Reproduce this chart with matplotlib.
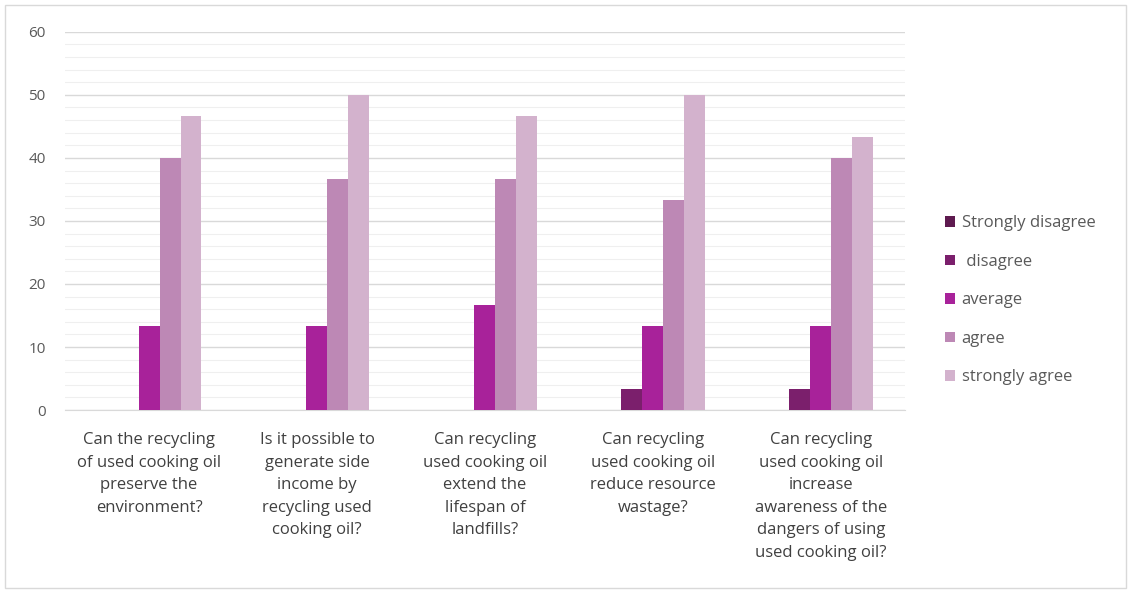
import numpy as np
import matplotlib.pyplot as plt
from matplotlib.patches import Rectangle

plt.rcParams['font.family'] = ['Open Sans', 'DejaVu Sans']

categories = [
    "Can the recycling\nof used cooking oil\npreserve the\nenvironment?",
    "Is it possible to\ngenerate side\nincome by\nrecycling used\ncooking oil?",
    "Can recycling\nused cooking oil\nextend the\nlifespan of\nlandfills?",
    "Can recycling\nused cooking oil\nreduce resource\nwastage?",
    "Can recycling\nused cooking oil\nincrease\nawareness of the\ndangers of using\nused cooking oil?",
]
series_names = ["Strongly disagree", " disagree", "average", "agree", "strongly agree"]
strongly_disagree = [0, 0, 0, 0, 0]
disagree = [0, 0, 0, 3.33, 3.33]
average = [13.33, 13.33, 16.67, 13.33, 13.33]
agree = [40, 36.67, 36.67, 33.33, 40]
strongly_agree = [46.67, 50, 46.67, 50, 43.33]
colors = ["#5e1a4f", "#7b1f6c", "#a8229a", "#bd88b5", "#d3b2cd"]

fig = plt.figure(figsize=(11.31, 5.9), dpi=100)
ax = fig.add_axes([0.0575, 0.305, 0.7425, 0.641])

# chart border
fig.patches.append(Rectangle((0.004, 0.004), 0.992, 0.988, transform=fig.transFigure,
                             fill=False, edgecolor="#d9d9d9", lw=1))

data = [strongly_disagree, disagree, average, agree, strongly_agree]
x = np.arange(len(categories))
w = 0.125
for i, (vals, name, c) in enumerate(zip(data, series_names, colors)):
    ax.bar(x + (i - 2) * w, vals, w, color=c, label=name, zorder=3)

ax.set_xlim(-0.5, len(categories) - 0.5)
ax.set_ylim(0, 60)
ax.set_yticks(np.arange(0, 61, 10))
ax.set_yticks(np.arange(0, 61, 2), minor=True)
ax.grid(axis='y', which='major', color="#d9d9d9", lw=1, zorder=0)
ax.grid(axis='y', which='minor', color="#efefef", lw=0.8, zorder=0)
for s in ax.spines.values():
    s.set_visible(False)
ax.spines['bottom'].set_visible(True)
ax.spines['bottom'].set_color("#d9d9d9")
ax.tick_params(axis='both', which='both', length=0)
ax.tick_params(axis='y', labelsize=11, labelcolor="#595959", pad=14)
ax.set_xticks(x)
ax.set_xticklabels(categories, fontsize=12, color="#404040", linespacing=1.54,
                   va='top')
ax.tick_params(axis='x', pad=16)

ax.legend(loc='center left', bbox_to_anchor=(1.03, 0.29), frameon=False,
          fontsize=12, labelcolor="#595959", handlelength=0.6, handleheight=0.6,
          handletextpad=0.4, labelspacing=1.35)

fig.savefig("out.png", dpi=100)
